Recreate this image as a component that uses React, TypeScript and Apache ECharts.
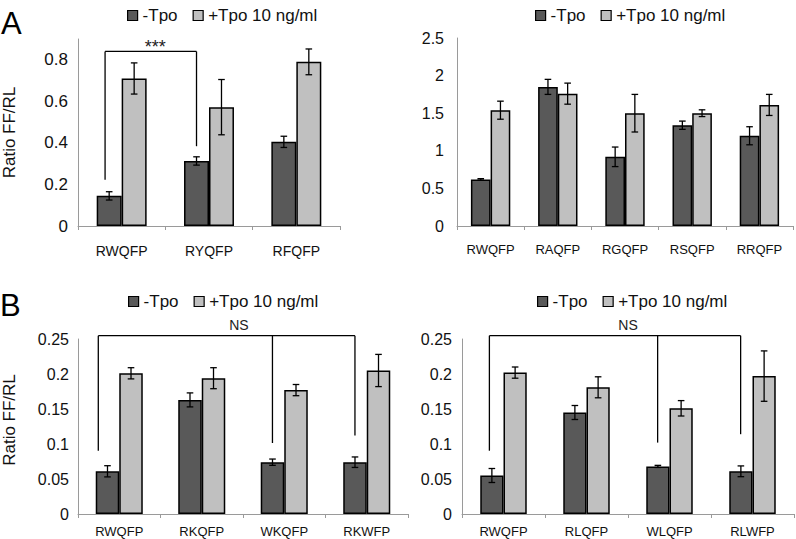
import React, { useEffect, useRef } from "react";
import * as echarts from "echarts";

// ---------- data ----------
const seriesNames = ["-Tpo", "+Tpo 10 ng/ml"];

const catsA1 = ["RWQFP", "RYQFP", "RFQFP"];
const minusA1 = [0.145, 0.313, 0.405];
const minusA1Err = [0.02, 0.02, 0.027];
const plusA1 = [0.71, 0.572, 0.79];
const plusA1Err = [0.075, 0.133, 0.062];
const ticksA1 = { min: 0, max: 0.9, interval: 0.2 };

const catsA2 = ["RWQFP", "RAQFP", "RGQFP", "RSQFP", "RRQFP"];
const minusA2 = [0.62, 1.85, 0.92, 1.34, 1.2];
const minusA2Err = [0.01, 0.1, 0.13, 0.055, 0.12];
const plusA2 = [1.54, 1.76, 1.5, 1.5, 1.61];
const plusA2Err = [0.12, 0.14, 0.25, 0.045, 0.14];
const ticksA2 = { min: 0, max: 2.5, interval: 0.5 };

const catsB1 = ["RWQFP", "RKQFP", "WKQFP", "RKWFP"];
const minusB1 = [0.061, 0.163, 0.074, 0.074];
const minusB1Err = [0.008, 0.01, 0.0045, 0.0075];
const plusB1 = [0.201, 0.194, 0.177, 0.205];
const plusB1Err = [0.008, 0.015, 0.008, 0.023];
const ticksB = { min: 0, max: 0.25, interval: 0.05 };

const catsB2 = ["RWQFP", "RLQFP", "WLQFP", "RLWFP"];
const minusB2 = [0.055, 0.145, 0.068, 0.061];
const minusB2Err = [0.01, 0.01, 0.0015, 0.0077];
const plusB2 = [0.202, 0.181, 0.151, 0.197];
const plusB2Err = [0.008, 0.015, 0.011, 0.036];

// significance brackets: legs = [category, offset (fraction of band), lower value]
const bracketA1 = { top: 0.84, label: "***", labelAt: 0.385, legs: [[0, -0.19, 0.222], [1, -0.143, 0.384]] };
const bracketB1 = { top: 0.2547, label: "NS", labelAt: 1.45, legs: [[0, -0.254, 0.0904], [2, -0.143, 0.1014], [3, -0.143, 0.112]] };
const bracketB2 = { top: 0.2547, label: "NS", labelAt: 1.5, legs: [[0, -0.17, 0.0904], [2, -0.143, 0.102], [3, -0.143, 0.114]] };

// ---------- styling ----------
const FONT = '"Liberation Sans", Arial, Helvetica, sans-serif';
const DARK = "#595959";
const LIGHT = "#c0c0c0";
const AXIS = "#9a9a9a";
const TXT = "#111";

function errRender(frac: number) {
  return (params: any, api: any) => {
    const idx = api.value(0);
    const v = api.value(1);
    const e = api.value(2);
    const side = api.value(3);
    const band = api.size([1, 0])[0];
    const x = api.coord([idx, v])[0] + (side * band * frac) / 2;
    const y1 = api.coord([idx, v + e])[1];
    const y2 = api.coord([idx, v - e])[1];
    const cap = 3.3;
    const st = { stroke: "#000", lineWidth: 1.3 };
    return {
      type: "group",
      children: [
        { type: "line", shape: { x1: x, y1: y1, x2: x, y2: y2 }, style: st },
        { type: "line", shape: { x1: x - cap, y1: y1, x2: x + cap, y2: y1 }, style: st },
        { type: "line", shape: { x1: x - cap, y1: y2, x2: x + cap, y2: y2 }, style: st },
      ],
    };
  };
}

function bracketRender(cfg: any, fontSize: number, labelDy: number) {
  return (params: any, api: any) => {
    const band = api.size([1, 0])[0];
    const xs = cfg.legs.map((l: any) => api.coord([l[0], 0])[0] + l[1] * band);
    const yTop = api.coord([0, cfg.top])[1];
    const st = { stroke: "#000", lineWidth: 1.3, fill: null };
    const children: any[] = [
      { type: "line", shape: { x1: xs[0], y1: yTop, x2: xs[xs.length - 1], y2: yTop }, style: st },
    ];
    cfg.legs.forEach((l: any, i: number) => {
      const yLow = api.coord([0, l[2]])[1];
      children.push({ type: "line", shape: { x1: xs[i], y1: yTop, x2: xs[i], y2: yLow }, style: st });
    });
    const base = Math.floor(cfg.labelAt);
    const lx = api.coord([base, 0])[0] + (cfg.labelAt - base) * band;
    children.push({
      type: "text",
      x: lx,
      y: yTop - labelDy,
      style: { text: cfg.label, fontSize, fontFamily: FONT, fill: "#222", align: "center", verticalAlign: "middle" },
    });
    return { type: "group", children };
  };
}

function panelSeries(gi: number, minus: number[], minusErr: number[], plus: number[], plusErr: number[], frac: number) {
  const bw = (frac * 100).toFixed(1) + "%";
  return [
    {
      type: "bar", name: seriesNames[0], xAxisIndex: gi, yAxisIndex: gi, data: minus,
      barWidth: bw, barGap: "0%",
      itemStyle: { color: DARK, borderColor: "#000", borderWidth: 1.5 },
    },
    {
      type: "bar", name: seriesNames[1], xAxisIndex: gi, yAxisIndex: gi, data: plus,
      barWidth: bw, barGap: "0%",
      itemStyle: { color: LIGHT, borderColor: "#000", borderWidth: 1.5 },
    },
    {
      type: "custom", xAxisIndex: gi, yAxisIndex: gi, z: 5, silent: true,
      renderItem: errRender(frac),
      data: [
        ...minus.map((v, i) => [i, v, minusErr[i], -1]),
        ...plus.map((v, i) => [i, v, plusErr[i], 1]),
      ],
    },
  ];
}

function bracketSeries(gi: number, cfg: any, fontSize: number, labelDy: number) {
  return {
    type: "custom", xAxisIndex: gi, yAxisIndex: gi, z: 6, silent: true, clip: false,
    renderItem: bracketRender(cfg, fontSize, labelDy),
    data: [[0, cfg.top]],
  };
}

function xAxis(gi: number, cats: string[], fontSize: number, margin: number) {
  return {
    type: "category", gridIndex: gi, data: cats,
    axisLine: { show: true, lineStyle: { color: AXIS, width: 1 } },
    axisTick: { show: true, length: 4, interval: 0, lineStyle: { color: AXIS } },
    axisLabel: { interval: 0, fontSize, fontFamily: FONT, color: TXT, margin },
    splitLine: { show: false },
  };
}

function yAxis(gi: number, t: any, fontSize: number, margin: number, hideMax: boolean) {
  return {
    type: "value", gridIndex: gi, min: t.min, max: t.max, interval: t.interval,
    axisLine: { show: true, lineStyle: { color: AXIS, width: 1 } },
    axisTick: { show: false },
    splitLine: { show: false },
    axisLabel: {
      fontSize, fontFamily: FONT, color: TXT, margin,
      formatter: (v: number) => (hideMax && v > t.max - t.interval / 2 && v !== t.min && Math.abs((v - t.min) / t.interval - Math.round((v - t.min) / t.interval)) > 1e-6 ? "" : String(v)),
    },
  };
}

function legend(left: number, top: number) {
  return {
    left, top, padding: 0, itemGap: 15, itemWidth: 10, itemHeight: 10, icon: "rect",
    selectedMode: false,
    data: seriesNames,
    itemStyle: { borderColor: "#000", borderWidth: 1.2 },
    textStyle: { fontSize: 17, fontFamily: FONT, color: TXT, padding: [0, 0, 0, 0] },
  };
}

export default function App() {
  const ref = useRef<HTMLDivElement>(null);
  useEffect(() => {
    if (!ref.current) return;
    const chart = echarts.init(ref.current, null, { renderer: "svg" });
    const option: any = {
      animation: false,
      backgroundColor: "#fff",
      textStyle: { fontFamily: FONT },
      grid: [
        { left: 78, top: 39, width: 262, height: 187 },
        { left: 457, top: 38, width: 336, height: 188 },
        { left: 78, top: 339, width: 330, height: 175 },
        { left: 462, top: 339, width: 332, height: 175 },
      ],
      legend: [legend(127, 7), legend(535, 7), legend(128, 293), legend(537, 293)],
      xAxis: [
        xAxis(0, catsA1, 14, 18),
        xAxis(1, catsA2, 13, 17),
        xAxis(2, catsB1, 13, 11),
        xAxis(3, catsB2, 13, 11),
      ],
      yAxis: [
        yAxis(0, ticksA1, 17, 10, true),
        yAxis(1, ticksA2, 16, 13, false),
        yAxis(2, ticksB, 16, 9, false),
        yAxis(3, ticksB, 16, 10, false),
      ],
      graphic: [
        { type: "text", left: 1, top: 8, style: { text: "A", fontSize: 31, fontFamily: FONT, fill: "#000" } },
        { type: "text", left: 0, top: 290, style: { text: "B", fontSize: 31, fontFamily: FONT, fill: "#000" } },
        { type: "text", x: 9.8, y: 132.5, rotation: Math.PI / 2, style: { text: "Ratio FF/RL", fontSize: 17, fontFamily: FONT, fill: TXT, align: "center", verticalAlign: "middle" } },
        { type: "text", x: 9.8, y: 420, rotation: Math.PI / 2, style: { text: "Ratio FF/RL", fontSize: 17, fontFamily: FONT, fill: TXT, align: "center", verticalAlign: "middle" } },
      ],
      series: [
        ...panelSeries(0, minusA1, minusA1Err, plusA1, plusA1Err, 0.286),
        ...panelSeries(1, minusA2, minusA2Err, plusA2, plusA2Err, 0.293),
        ...panelSeries(2, minusB1, minusB1Err, plusB1, plusB1Err, 0.285),
        ...panelSeries(3, minusB2, minusB2Err, plusB2, plusB2Err, 0.28),
        bracketSeries(0, bracketA1, 18, 4.3),
        bracketSeries(2, bracketB1, 14, 11),
        bracketSeries(3, bracketB2, 14, 11),
      ],
    };
    chart.setOption(option);
    return () => chart.dispose();
  }, []);
  return <div ref={ref} style={{ position: "fixed", left: 0, top: 0, width: 796, height: 539 }} />;
}
